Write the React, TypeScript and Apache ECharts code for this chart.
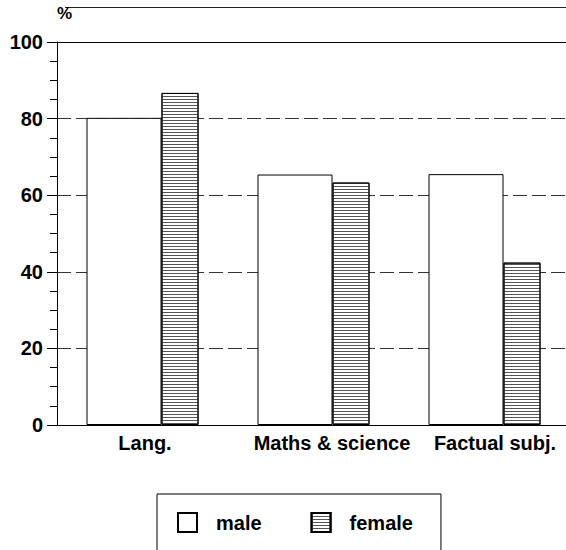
import React, { useEffect, useRef } from "react";
import * as echarts from "echarts";

const categories = ["Lang.", "Maths & science", "Factual subj."];
const maleValues = [80.2, 65.4, 65.5];
const femaleValues = [86.7, 63.3, 42.4];
const seriesNames = ["male", "female"];
const yTicks = { min: 0, max: 100, interval: 20 };

const FONT = "'Liberation Sans', Arial, Helvetica, sans-serif";

export default function App() {
  const ref = useRef<HTMLDivElement>(null);
  useEffect(() => {
    if (!ref.current) return;
    const chart = echarts.init(ref.current, null, { renderer: "svg" });
    const stripe = {
      symbol: "rect",
      symbolSize: 1,
      color: "#555",
      dashArrayX: [1, 0],
      dashArrayY: [1, 1.7],
      rotation: 0,
    };
    const richBase = { fontSize: 20, fontWeight: "bold", fontFamily: FONT, color: "#000" };
    chart.setOption({
      animation: false,
      backgroundColor: "#fff",
      textStyle: { fontFamily: FONT },
      grid: { left: 57, right: 2, top: 42, bottom: 125, containLabel: false },
      legend: {
        left: 157,
        top: 494,
        orient: "horizontal",
        padding: [18, 28, 30, 20],
        borderColor: "#000",
        borderWidth: 1,
        borderRadius: 0,
        itemWidth: 19,
        itemHeight: 19,
        itemGap: 49,
        icon: "rect",
        selectedMode: false,
        data: seriesNames,
        textStyle: {
          fontFamily: FONT,
          fontSize: 20,
          fontWeight: "bold",
          color: "#000",
          padding: [0, 0, 0, 14],
        },
      },
      graphic: [
        {
          type: "line",
          shape: { x1: 65, y1: 7.5, x2: 572, y2: 7.5 },
          style: { stroke: "#222", lineWidth: 1 },
        },
      ],
      xAxis: {
        type: "category",
        data: categories,
        axisLine: { show: true, lineStyle: { color: "#000", width: 1 } },
        axisTick: { show: false },
        axisLabel: {
          interval: 0,
          hideOverlap: false,
          margin: 8,
          color: "#000",
          fontFamily: FONT,
          fontSize: 20,
          fontWeight: "bold",
          formatter: (v: string, i: number) => `{l${i}|${v}}`,
          rich: {
            l0: { ...richBase, padding: [0, 0, 0, 5] },
            l1: { ...richBase, padding: [0, 0, 0, 37] },
            l2: { ...richBase, padding: [0, 0, 0, 21] },
          },
        },
        splitLine: { show: false },
      },
      yAxis: {
        type: "value",
        min: yTicks.min,
        max: yTicks.max,
        interval: yTicks.interval,
        name: "%",
        nameLocation: "end",
        nameGap: 20,
        nameTextStyle: {
          align: "left",
          fontFamily: FONT,
          fontSize: 17,
          fontWeight: "bold",
          color: "#000",
        },
        axisLine: { show: true, lineStyle: { color: "#000", width: 1 } },
        axisTick: { show: true, length: 10, lineStyle: { color: "#000" } },
        minorTick: { show: true, splitNumber: 4, length: 7, lineStyle: { color: "#000" } },
        axisLabel: {
          margin: 14,
          color: "#000",
          fontFamily: FONT,
          fontSize: 20,
          fontWeight: "bold",
        },
        splitLine: {
          show: true,
          lineStyle: { color: "#333", width: 1, type: [14, 5] },
        },
      },
      series: [
        {
          name: seriesNames[0],
          type: "bar",
          data: maleValues,
          barWidth: 75,
          barGap: "0%",
          itemStyle: { color: "#fff", borderColor: "#000", borderWidth: 1 },
          markLine: {
            silent: true,
            symbol: "none",
            label: { show: false },
            lineStyle: { color: "#000", type: "solid", width: 1 },
            data: [{ yAxis: yTicks.max }],
          },
        },
        {
          name: seriesNames[1],
          type: "bar",
          data: femaleValues,
          barWidth: 37,
          barGap: "0%",
          itemStyle: {
            color: "#fff",
            borderColor: "#000",
            borderWidth: 1,
            decal: stripe,
          },
        },
      ],
    });
    return () => chart.dispose();
  }, []);
  return (
    <div
      style={{
        position: "fixed",
        left: 0,
        top: 0,
        width: 566,
        height: 550,
        overflow: "hidden",
        background: "#fff",
      }}
    >
      <div ref={ref} style={{ width: 572, height: 550 }} />
    </div>
  );
}
